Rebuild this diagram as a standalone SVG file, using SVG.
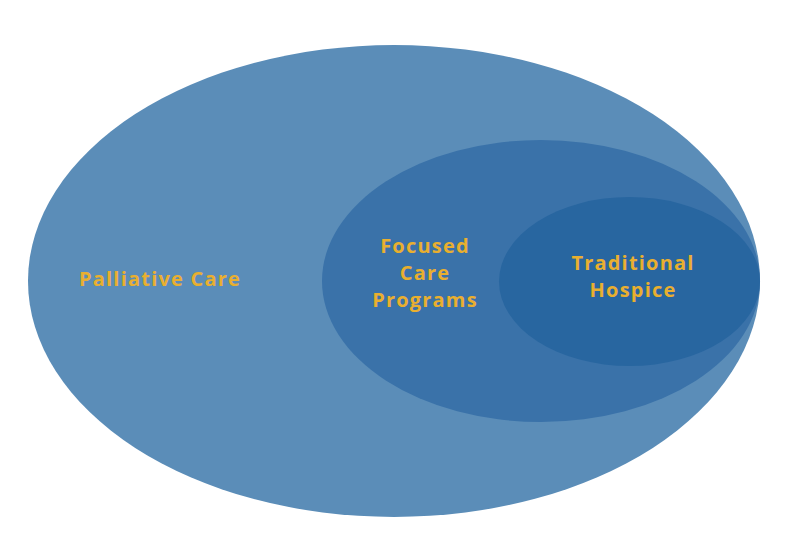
<svg xmlns="http://www.w3.org/2000/svg" width="800" height="560" viewBox="0 0 800 560">
<style>
.lbl{font-family:"Open Sans","Liberation Sans",sans-serif;font-weight:bold;font-size:20px;letter-spacing:1.2px;fill:#E9AF2F;text-anchor:middle}
</style>
<rect width="800" height="560" fill="#ffffff"/>
<g id="palliative-care">
<ellipse cx="394" cy="281" rx="366" ry="236" fill="#5B8DB8"/>
<text class="lbl" x="160" y="286">Palliative Care</text>
</g>
<g id="focused-care-programs">
<ellipse cx="541" cy="281" rx="219" ry="141" fill="#3A72A9"/>
<text class="lbl" x="425" y="253">Focused</text>
<text class="lbl" x="425" y="280">Care</text>
<text class="lbl" x="425" y="307">Programs</text>
</g>
<g id="traditional-hospice">
<ellipse cx="629.5" cy="281.5" rx="130.5" ry="84.5" fill="#2866A0"/>
<text class="lbl" x="633" y="270">Traditional</text>
<text class="lbl" x="633" y="297">Hospice</text>
</g>
<g id="connectors"/>
</svg>
